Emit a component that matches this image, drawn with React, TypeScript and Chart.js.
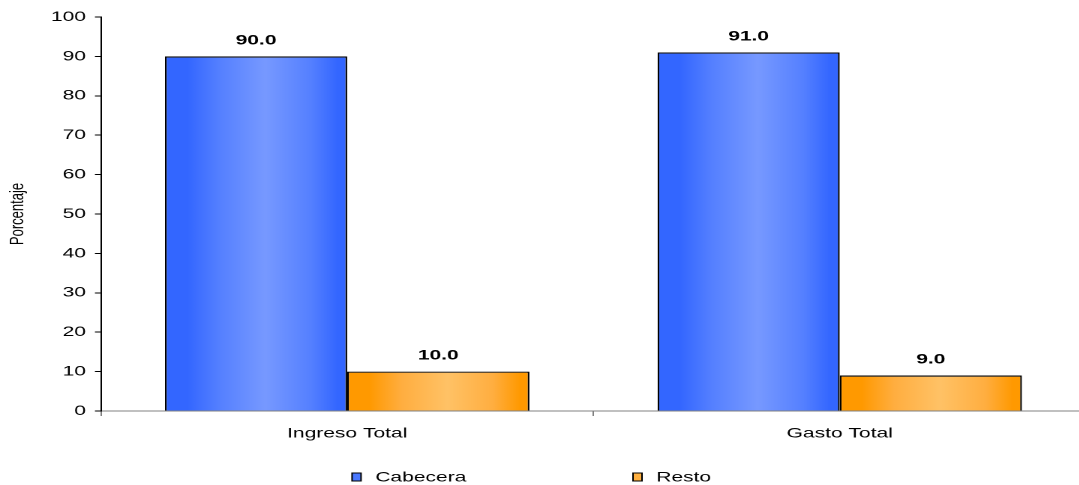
import React, { useEffect, useRef } from "react";
import { Chart, registerables } from "chart.js";

Chart.register(...registerables);

const categories = ["Ingreso Total", "Gasto Total"];
const seriesNames = ["Cabecera", "Resto"];
const cabeceraValues = [90.0, 91.0];
const restoValues = [10.0, 9.0];
const yTicks = [0, 10, 20, 30, 40, 50, 60, 70, 80, 90, 100];
const yTitle = "Porcentaje";

const FONT = "'Liberation Sans', Arial, Helvetica, sans-serif";
const CAT_PCT = 0.74;
const SCALE_X = 1.5;

const palettes = [
  { edge: "#3366FF", mid: "#5580FF", center: "#7799FF", legend: "#4A78FF" },
  { edge: "#FF9900", mid: "#FFAE40", center: "#FFC266", legend: "#FFB040" },
];

function makeFill(ctx: any) {
  const chart = ctx.chart;
  const ds = ctx.datasetIndex;
  const pal = palettes[ds];
  const xs = chart.scales && chart.scales.x;
  if (!xs || ctx.type !== "data" || xs.right === undefined) return pal.edge;
  const n = categories.length;
  const catW = (xs.right - xs.left) / n;
  const groupW = catW * CAT_PCT;
  const barW = groupW / seriesNames.length;
  const center = xs.getPixelForValue(ctx.dataIndex);
  const left = center - groupW / 2 + ds * barW;
  const g = chart.ctx.createLinearGradient(left, 0, left + barW, 0);
  g.addColorStop(0, pal.edge);
  g.addColorStop(0.12, pal.edge);
  g.addColorStop(0.3, pal.mid);
  g.addColorStop(0.55, pal.center);
  g.addColorStop(0.8, pal.mid);
  g.addColorStop(0.95, pal.edge);
  g.addColorStop(1, pal.edge);
  return g;
}

const labelsPlugin = {
  id: "valueLabels",
  afterDatasetsDraw(chart: any) {
    const c = chart.ctx;
    c.save();
    c.font = `bold 14px ${FONT}`;
    c.fillStyle = "#000";
    c.textAlign = "center";
    c.textBaseline = "alphabetic";
    chart.data.datasets.forEach((d: any, di: number) => {
      const meta = chart.getDatasetMeta(di);
      meta.data.forEach((el: any, i: number) => {
        c.fillText(Number(d.data[i]).toFixed(1), el.x, el.y - 12);
      });
    });
    c.restore();
  },
};

const legendPlugin = {
  id: "customLegend",
  afterDraw(chart: any) {
    const c = chart.ctx;
    const positions = [234.7, 422];
    c.save();
    c.font = `14px ${FONT}`;
    c.textBaseline = "middle";
    c.textAlign = "left";
    seriesNames.forEach((name, i) => {
      const x = positions[i];
      c.fillStyle = palettes[i].legend;
      c.fillRect(x, 473, 6, 8);
      c.strokeStyle = "#000";
      c.lineWidth = 1;
      c.strokeRect(x, 473, 6, 8);
      c.fillStyle = "#000";
      c.fillText(name, x + 15.5, 477.5);
    });
    c.restore();
  },
};

export default function App() {
  const ref = useRef<HTMLCanvasElement | null>(null);

  useEffect(() => {
    if (!ref.current) return;
    const chart = new Chart(ref.current, {
      type: "bar",
      data: {
        labels: categories,
        datasets: [
          {
            label: seriesNames[0],
            data: cabeceraValues,
            backgroundColor: makeFill,
            borderColor: "#000",
            borderWidth: 1.2,
            categoryPercentage: CAT_PCT,
            barPercentage: 1,
          },
          {
            label: seriesNames[1],
            data: restoValues,
            backgroundColor: makeFill,
            borderColor: "#000",
            borderWidth: 1.2,
            categoryPercentage: CAT_PCT,
            barPercentage: 1,
          },
        ],
      },
      options: {
        animation: false,
        responsive: true,
        maintainAspectRatio: false,
        devicePixelRatio: 2,
        layout: { padding: { top: 17, right: 6, bottom: 0, left: 0 } },
        plugins: {
          legend: { display: false },
          tooltip: { enabled: false },
          title: { display: false },
        },
        scales: {
          x: {
            grid: {
              display: true,
              drawOnChartArea: false,
              drawTicks: true,
              tickLength: 5,
              color: "#808080",
              offset: true,
            },
            border: { display: true, color: "#808080", width: 1 },
            ticks: {
              color: "#000",
              font: { family: FONT, size: 14 },
              padding: 9,
            },
            afterFit(scale: any) {
              scale.height = 74;
            },
          },
          y: {
            min: 0,
            max: 100,
            afterBuildTicks(scale: any) {
              scale.ticks = yTicks.map((v) => ({ value: v }));
            },
            grid: {
              display: true,
              drawOnChartArea: false,
              drawTicks: true,
              tickLength: 4,
              color: "#000",
            },
            border: { display: true, color: "#000", width: 1 },
            ticks: {
              color: "#000",
              font: { family: FONT, size: 14 },
              padding: 6,
            },
            title: {
              display: true,
              text: yTitle,
              color: "#000",
              font: { family: FONT, size: 13 },
              padding: { top: 4, bottom: 0 },
            },
            afterFit(scale: any) {
              scale.width = 67.3;
            },
          },
        },
      },
      plugins: [labelsPlugin, legendPlugin],
    } as any);
    return () => chart.destroy();
  }, []);

  return (
    <div
      style={{
        position: "fixed",
        left: 0,
        top: 0,
        width: 1079,
        height: 485,
        overflow: "hidden",
        background: "#fff",
      }}
    >
      <div
        style={{
          position: "relative",
          width: 730,
          height: 485,
          transform: `scaleX(${SCALE_X})`,
          transformOrigin: "0 0",
        }}
      >
        <canvas ref={ref} />
      </div>
    </div>
  );
}
